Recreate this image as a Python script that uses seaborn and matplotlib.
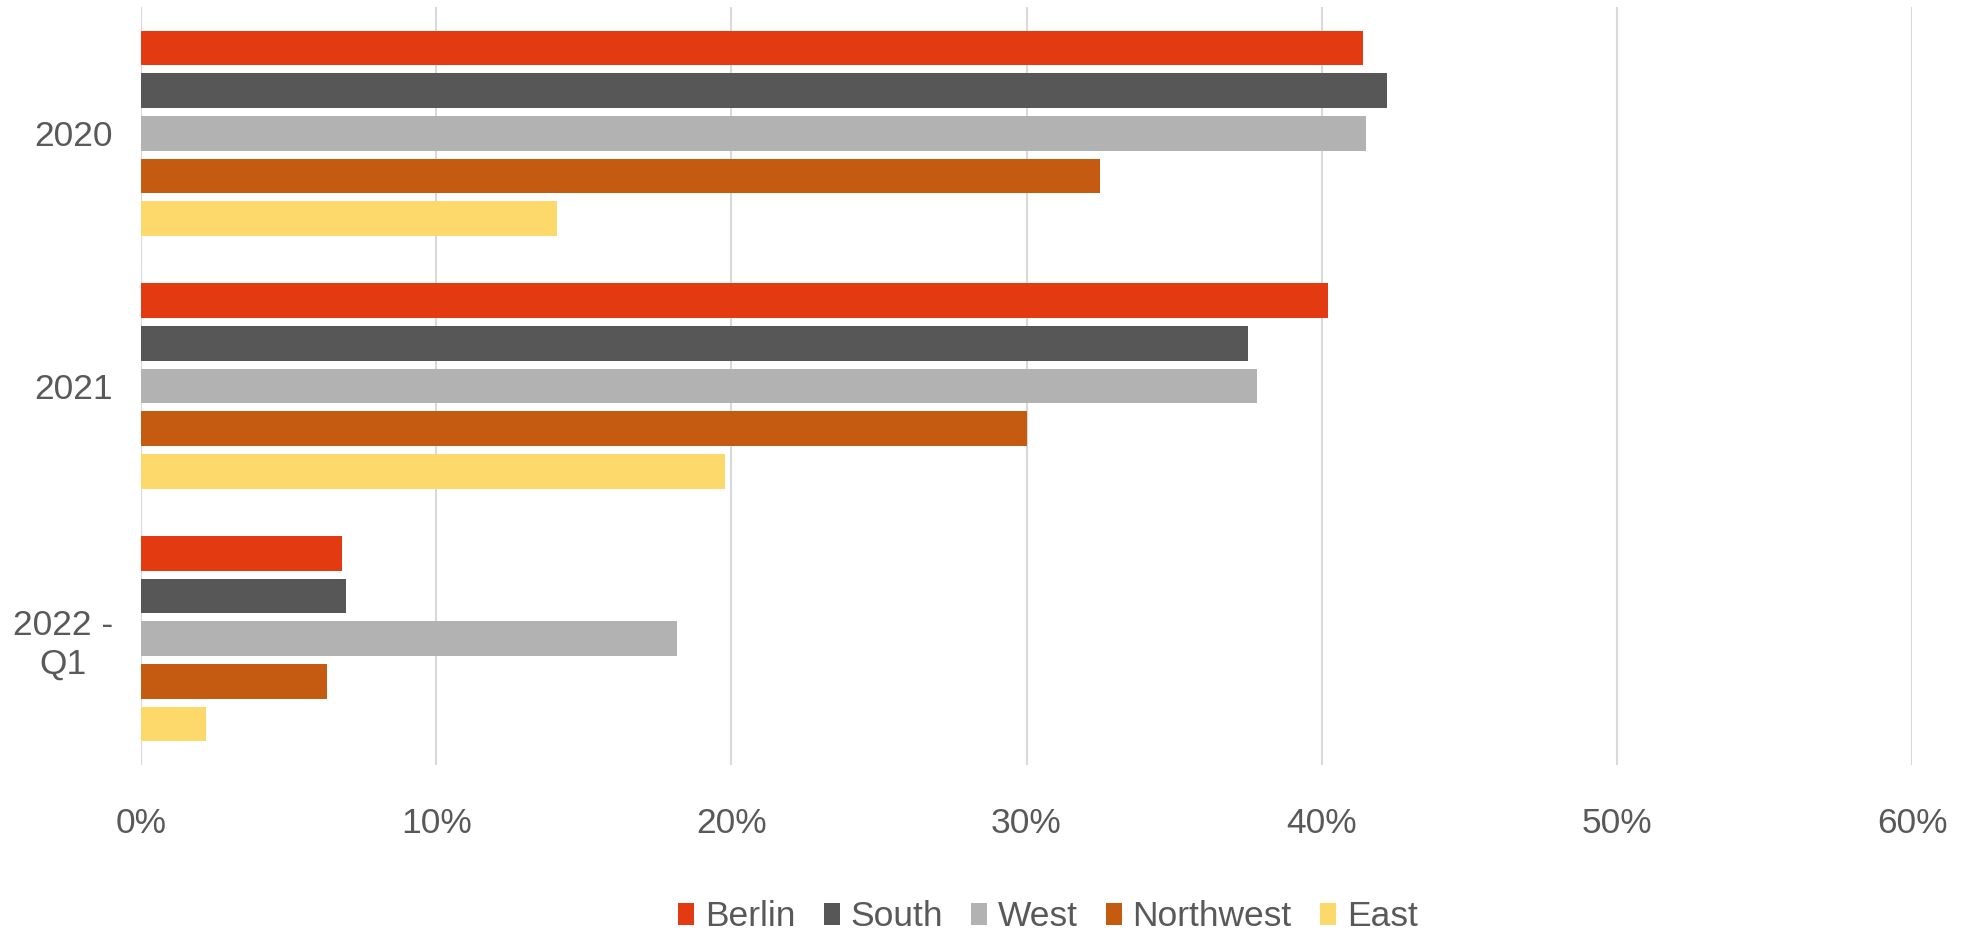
import matplotlib
matplotlib.use("Agg")
import matplotlib.pyplot as plt
from matplotlib.patches import Patch
from matplotlib.ticker import PercentFormatter
import seaborn as sns
import pandas as pd

periods = ["2020", "2021", "2022 -\nQ1"]
regions = ["Berlin", "South", "West", "Northwest", "East"]
berlin = [0.414, 0.402, 0.068]
south = [0.422, 0.375, 0.0695]
west = [0.415, 0.378, 0.1815]
northwest = [0.325, 0.300, 0.063]
east = [0.141, 0.198, 0.022]
colors = ["#E43A12", "#575757", "#B2B2B2", "#C55A11", "#FDD86A"]
x_ticks = [0.0, 0.1, 0.2, 0.3, 0.4, 0.5, 0.6]

series = [berlin, south, west, northwest, east]
rows = []
for region, values in zip(regions, series):
    for period, v in zip(periods, values):
        rows.append({"period": period, "region": region, "share": v})
df = pd.DataFrame(rows)

sns.set_theme(style="white")
plt.rcParams["font.family"] = ["Liberation Sans", "DejaVu Sans"]
text_color = "#595959"

W, H = 1962, 934
fig = plt.figure(figsize=(W / 100, H / 100), dpi=100)
left, right, top, bottom = 141, 1912, 7, 765
ax = fig.add_axes([left / W, 1 - bottom / H, (right - left) / W, (bottom - top) / H])

sns.barplot(
    data=df, x="share", y="period", hue="region", orient="h",
    order=periods, hue_order=regions, palette=colors, saturation=1,
    width=0.845, gap=0.19, dodge=True, errorbar=None,
    linewidth=0, ax=ax, legend=False,
)

ax.set_xlim(0, 0.6)
ax.set_ylim(2.5, -0.5)
ax.set_xticks(x_ticks)
ax.xaxis.set_major_formatter(PercentFormatter(1.0, decimals=0))
ax.grid(axis="x", color="#D9D9D9", linewidth=1.5)
ax.grid(axis="y", visible=False)
ax.set_axisbelow(True)
for s in ax.spines.values():
    s.set_visible(False)
ax.set_xlabel("")
ax.set_ylabel("")
ax.tick_params(axis="x", length=0, pad=30, labelsize=25.5, labelcolor=text_color)
ax.tick_params(axis="y", length=0, pad=20, labelsize=25.5, labelcolor=text_color)
for lbl in ax.get_yticklabels():
    lbl.set_multialignment("center")
    lbl.set_linespacing(1.2)

handles = [Patch(facecolor=c, edgecolor="none", label=r) for r, c in zip(regions, colors)]
fig.legend(
    handles=handles, loc="center", bbox_to_anchor=(1048 / W, 1 - 917 / H),
    ncol=5, frameon=False, fontsize=25.5, labelcolor=text_color,
    handlelength=0.45, handleheight=0.6, handletextpad=0.3, columnspacing=0.8,
    borderpad=0,
)

fig.savefig("out.png", dpi=100)
